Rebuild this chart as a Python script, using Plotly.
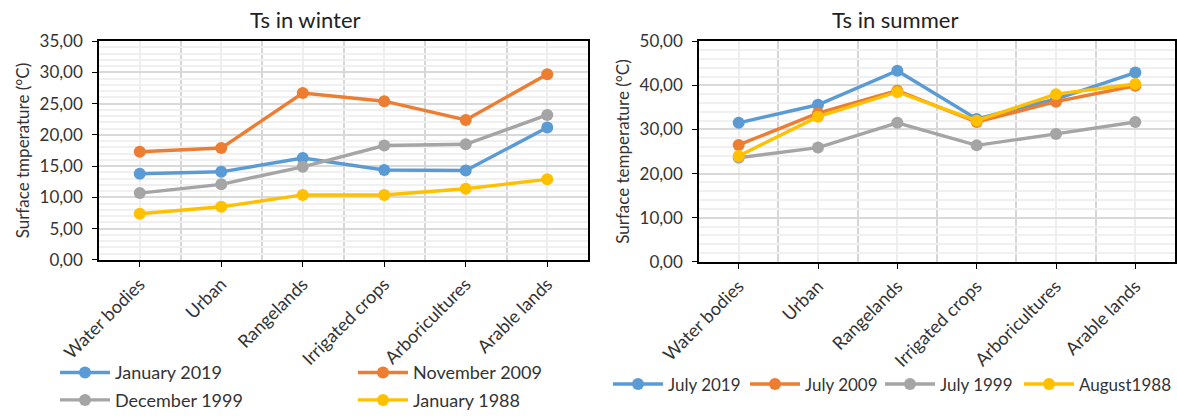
import plotly.graph_objects as go

categories = ["Water bodies", "Urban", "Rangelands", "Irrigated crops", "Arboricultures", "Arable lands"]

# Winter surface temperature (°C)
winter_names = ["January 2019", "November 2009", "December 1999", "January 1988"]
jan_2019 = [13.8, 14.1, 16.3, 14.4, 14.3, 21.2]
nov_2009 = [17.3, 17.9, 26.7, 25.4, 22.4, 29.7]
dec_1999 = [10.7, 12.1, 14.9, 18.3, 18.5, 23.2]
jan_1988 = [7.4, 8.5, 10.4, 10.4, 11.4, 12.9]

# Summer surface temperature (°C)
summer_names = ["July 2019", "July 2009", "July 1999", "August1988"]
jul_2019 = [31.5, 35.6, 43.3, 32.4, 36.9, 42.9]
jul_2009 = [26.5, 33.7, 38.8, 31.7, 36.3, 39.9]
jul_1999 = [23.6, 25.9, 31.5, 26.4, 29.0, 31.7]
aug_1988 = [24.0, 32.9, 38.5, 32.0, 38.0, 40.3]

colors = ["#5B9BD5", "#ED7D31", "#A5A5A5", "#FFC000"]
FONT = "Lato, 'Open Sans', sans-serif"
TXT = "#333333"
W, H = 1177, 419

x_idx = list(range(len(categories)))

fig = go.Figure()

winter = [jan_2019, nov_2009, dec_1999, jan_1988]
winter_legend = ["legend", "legend", "legend2", "legend2"]
for name, vals, col, lg in zip(winter_names, winter, colors, winter_legend):
    fig.add_trace(go.Scatter(
        x=x_idx, y=vals, name=name, mode="lines+markers",
        line=dict(color=col, width=3.4), marker=dict(color=col, size=12),
        xaxis="x", yaxis="y", legend=lg,
    ))

# each summer series gets its own one-item legend so the row can be spaced freely
summer = [jul_2019, jul_2009, jul_1999, aug_1988]
summer_legend = ["legend3", "legend4", "legend5", "legend6"]
for name, vals, col, lg in zip(summer_names, summer, colors, summer_legend):
    fig.add_trace(go.Scatter(
        x=x_idx, y=vals, name=name, mode="lines+markers",
        line=dict(color=col, width=3.4), marker=dict(color=col, size=12),
        xaxis="x2", yaxis="y2", legend=lg,
    ))

xaxis_common = dict(
    tickmode="array", tickvals=x_idx, ticktext=categories, tickangle=-45,
    range=[-0.5, len(categories) - 0.5],
    showline=True, linecolor="black", linewidth=1.5, mirror=True,
    ticks="outside", ticklen=5, tickcolor="black",
    showgrid=True, gridcolor="#eeeeee", gridwidth=1.5,
    minor=dict(tickmode="linear", tick0=0.5, dtick=1, showgrid=True,
               gridcolor="#d6d6d6", gridwidth=1.5, ticks=""),
    tickfont=dict(size=18, color=TXT, family=FONT),
    zeroline=False, automargin=False,
)
yaxis_common = dict(
    showline=True, linecolor="black", linewidth=1.5, mirror=True,
    ticks="outside", ticklen=5, tickcolor="black",
    tickformat=".2f", ticklabelstandoff=6,
    showgrid=True, gridcolor="#d9d9d9", gridwidth=1.5,
    tickfont=dict(size=17, color=TXT, family=FONT),
    zeroline=False, automargin=False,
)

legend_common = dict(orientation="h", xanchor="left", yanchor="middle",
                     bgcolor="rgba(0,0,0,0)", itemwidth=50, tracegroupgap=0,
                     borderwidth=0)

summer_legend_x = [608, 745, 880, 1019]
summer_legends = {
    lg: dict(x=xp / W, y=1 - 392 / H, font=dict(size=17, color=TXT), **legend_common)
    for lg, xp in zip(summer_legend, summer_legend_x)
}

fig.update_layout(
    width=W, height=H,
    margin=dict(l=0, r=0, t=0, b=0),
    paper_bgcolor="white", plot_bgcolor="white",
    separators=", ",
    font=dict(family=FONT, color=TXT, size=17),
    xaxis=dict(domain=[99 / W, 588 / W], anchor="y", **xaxis_common),
    yaxis=dict(domain=[1 - 265 / H, 1 - 42 / H], anchor="x", range=[0, 35], dtick=5,
               minor=dict(dtick=1, showgrid=True, gridcolor="#f0f0f0", gridwidth=1.5),
               title=dict(text="Surface tmperature (°C)", font=dict(size=17, color=TXT), standoff=6),
               **yaxis_common),
    xaxis2=dict(domain=[699 / W, 1175 / W], anchor="y2", **xaxis_common),
    yaxis2=dict(domain=[1 - 267 / H, 1 - 42 / H], anchor="x2", range=[0, 50], dtick=10,
                minor=dict(dtick=2, showgrid=True, gridcolor="#f0f0f0", gridwidth=1.5),
                title=dict(text="Surface temperature (°C)", font=dict(size=17, color=TXT), standoff=6),
                **yaxis_common),
    legend=dict(x=55 / W, y=1 - 380 / H, entrywidth=233, font=dict(size=18, color=TXT),
                **legend_common),
    legend2=dict(x=55 / W, y=1 - 408 / H, entrywidth=233, font=dict(size=18, color=TXT),
                 **legend_common),
    **summer_legends,
    annotations=[
        dict(text="Ts in winter", x=305 / W, y=1 - 20 / H, xref="paper", yref="paper",
             showarrow=False, font=dict(size=22, color="#222"), xanchor="center", yanchor="middle"),
        dict(text="Ts in summer", x=895 / W, y=1 - 20 / H, xref="paper", yref="paper",
             showarrow=False, font=dict(size=22, color="#222"), xanchor="center", yanchor="middle"),
    ],
)

fig.write_html("out.html")
